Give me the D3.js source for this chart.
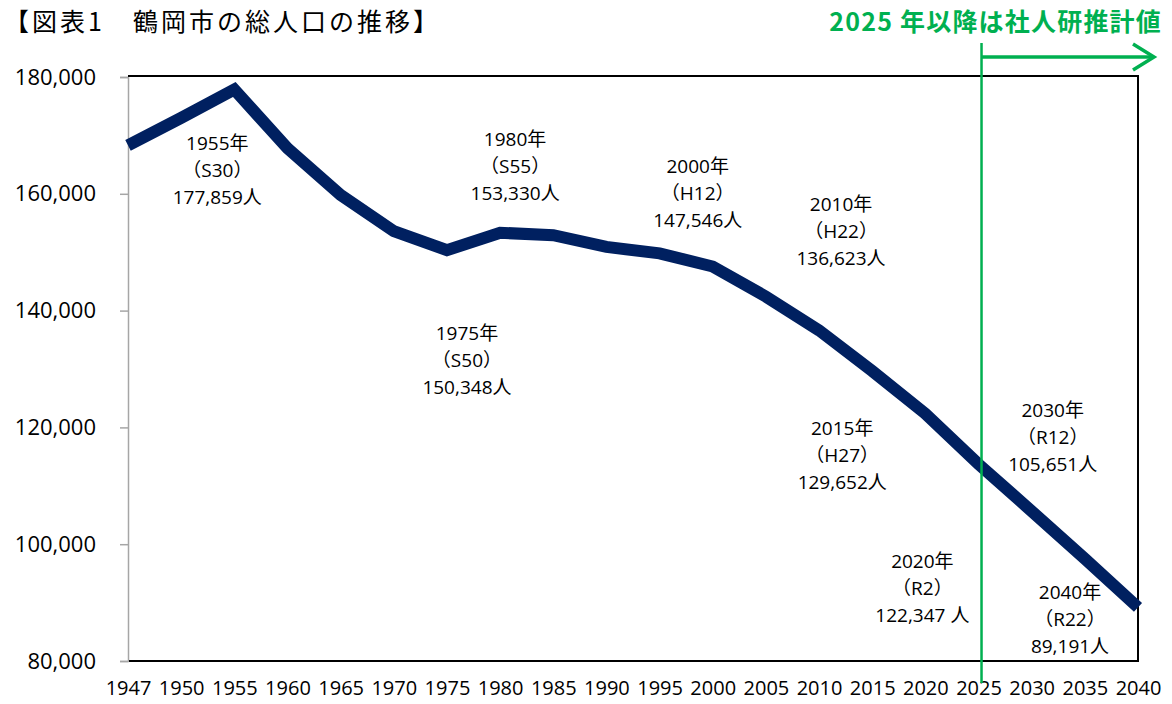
<!DOCTYPE html>
<html>
<head>
<meta charset="utf-8">
<script src="https://cdn.jsdelivr.net/npm/d3@7"></script>
<style>
  body { margin: 0; background: #fff; }
  text { font-family: "Open Sans", "Noto Sans CJK JP", sans-serif; }
</style>
</head>
<body>
<script>
// data
var years = ["1947","1950","1955","1960","1965","1970","1975","1980","1985","1990",
             "1995","2000","2005","2010","2015","2020","2025","2030","2035","2040"];
var population = [168300,173000,177859,167800,159800,153600,150348,153330,152900,150900,
                  149800,147546,142400,136623,129652,122347,113700,105651,97500,89191];
var yTicks = [80000,100000,120000,140000,160000,180000];

// annotated points
var noteYears = ["1955","1975","1980","2000","2010","2015","2020","2030","2040"];
var noteEras  = ["S30","S50","S55","H12","H22","H27","R2","R12","R22"];
var noteUnit  = ["人","人","人","人","人","人"," 人","人","人"];

var title = "【図表1　鶴岡市の総人口の推移】";
var forecastText = "2025 年以降は社人研推計値";
var forecastFrom = "2025";

// label offsets from each point (layout only)
var noteOffsets = [[-17,54],[20,83],[15,-93],[-15,-100],[22,-126],[-30,57],[-3,148],[21,-101],[-68,-15]];

var W = 1172, H = 704;
var svg = d3.select("body").append("svg").attr("width", W).attr("height", H);

var x = d3.scalePoint().domain(years).range([128, 1138]);
var y = d3.scaleLinear().domain([80000, 180000]).range([661, 77]);

// title
svg.append("text").attr("x", 4).attr("y", 31)
  .style("font-family", "'Noto Sans CJK JP'").style("font-size", "25px")
  .style("letter-spacing", "3px").attr("fill", "#000")
  .text(title);

// y axis (grey, ticks to the left)
var yAxis = svg.append("g").attr("transform", "translate(128,0)")
  .call(d3.axisLeft(y).tickValues(yTicks).tickSize(8).tickPadding(24)
    .tickFormat(d3.format(",")));
yAxis.select(".domain").attr("stroke", "#a6a6a6").attr("stroke-width", 1.5);
yAxis.selectAll(".tick line").attr("stroke", "#a6a6a6").attr("stroke-width", 1.5);
yAxis.selectAll(".tick text").style("font-size", "22px").attr("fill", "#000");

// x axis labels
var xAxis = svg.append("g").attr("transform", "translate(0,661)")
  .call(d3.axisBottom(x).tickSize(0).tickPadding(20));
xAxis.select(".domain").remove();
xAxis.selectAll(".tick text").style("font-size", "20px").attr("fill", "#000");

// plot frame
svg.append("path")
  .attr("d", "M128,76H1138V661H129")
  .attr("fill", "none").attr("stroke", "#000").attr("stroke-width", 2);

// population line
var line = d3.line().x(function(d, i){ return x(years[i]); }).y(function(d){ return y(d); });
svg.append("path").datum(population)
  .attr("d", line)
  .attr("fill", "none").attr("stroke", "#002060").attr("stroke-width", 12)
  .attr("stroke-linejoin", "miter").attr("stroke-miterlimit", 10);

// annotations
noteYears.forEach(function(yr, i){
  var v = population[years.indexOf(yr)];
  var cx = x(yr) + noteOffsets[i][0];
  var cy = y(v) + noteOffsets[i][1];
  var lines = [yr + "年", "（" + noteEras[i] + "）", d3.format(",")(v) + noteUnit[i]];
  var t = svg.append("text").attr("text-anchor", "middle")
    .style("font-size", "19px").attr("fill", "#000");
  lines.forEach(function(s, k){
    t.append("tspan").attr("x", cx).attr("y", cy + k * 27).attr("dy", "0.35em").text(s);
  });
});

// forecast marker
var green = "#00B050";
var fx = x(forecastFrom) + 3;
svg.append("line").attr("x1", fx).attr("x2", fx).attr("y1", 43).attr("y2", 683)
  .attr("stroke", green).attr("stroke-width", 2.5);
svg.append("line").attr("x1", fx).attr("x2", 1153).attr("y1", 57).attr("y2", 57)
  .attr("stroke", green).attr("stroke-width", 3.5);
svg.append("path").attr("d", "M1133,44L1154,57L1133,70")
  .attr("fill", "none").attr("stroke", green).attr("stroke-width", 3.5);
svg.append("text").attr("x", 1162).attr("y", 31).attr("text-anchor", "end")
  .style("font-family", "'Noto Sans CJK JP'").style("font-size", "25px")
  .style("font-weight", "bold").style("letter-spacing", "1.2px")
  .attr("fill", green).text(forecastText);
</script>
</body>
</html>
